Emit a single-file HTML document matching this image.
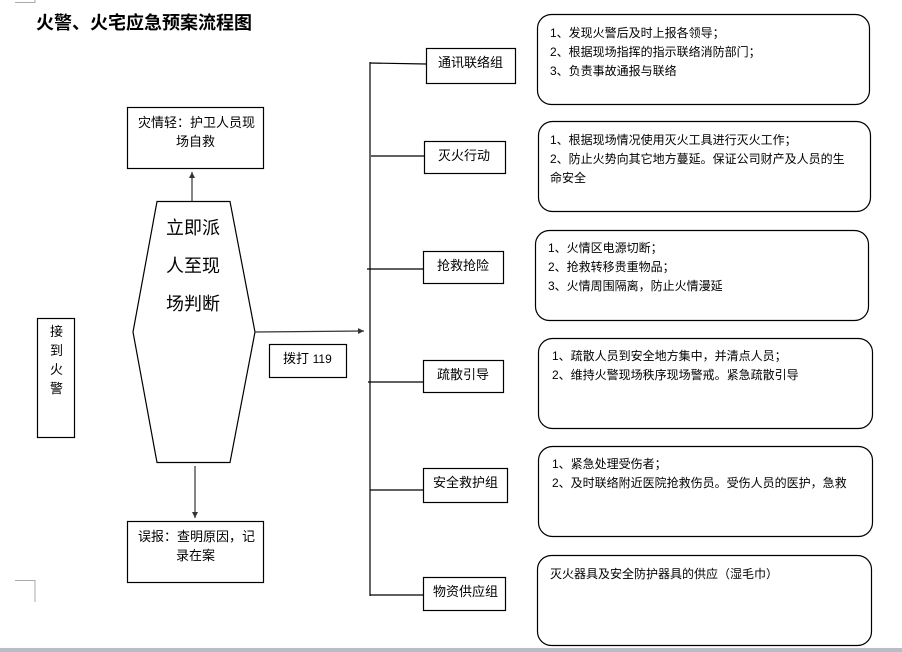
<!DOCTYPE html>
<html><head><meta charset="utf-8"><style>
html,body{margin:0;padding:0;background:#fff;}
svg{display:block;}
text{font-family:"Liberation Sans","Noto Sans CJK SC","WenQuanYi Zen Hei",sans-serif;fill:#000;}
</style></head><body>
<svg width="902" height="652" viewBox="0 0 902 652" xmlns="http://www.w3.org/2000/svg">
<defs><marker id="a" markerWidth="8" markerHeight="8" refX="6" refY="3" orient="auto" markerUnits="userSpaceOnUse"><path d="M0,0 L6,3 L0,6 z" fill="#333"/></marker></defs>
<rect width="902" height="652" fill="#fff"/>
<!-- corner marks -->
<path d="M15,2.5 H35 V0" fill="none" stroke="#aaa" stroke-width="1"/>
<path d="M15,580.5 H35 V602" fill="none" stroke="#aaa" stroke-width="1"/>
<!-- title -->
<text x="36" y="29" font-size="18" font-weight="bold">火警、火宅应急预案流程图</text>
<g fill="none" stroke="#000" stroke-width="1.2">
<!-- left box -->
<rect x="37.5" y="318.5" width="37" height="119"/>
<!-- hexagon -->
<polygon points="157,201.5 230,201.5 255,332 230,462.5 157,462.5 133,332"/>
<!-- upper/lower boxes -->
<rect x="127.5" y="107.5" width="136" height="61"/>
<rect x="127.5" y="521.5" width="136" height="61"/>
<rect x="269.5" y="344.5" width="77" height="33"/>
<!-- trunk -->
<line x1="370" y1="62" x2="370" y2="596"/>
<line x1="370" y1="63" x2="426" y2="64"/>
<line x1="371" y1="156" x2="424" y2="156"/>
<line x1="367" y1="269" x2="423" y2="269"/>
<line x1="368" y1="382" x2="423" y2="382"/>
<line x1="370" y1="490" x2="423" y2="490"/>
<line x1="370" y1="595" x2="423" y2="595"/>
<!-- group boxes -->
<rect x="426.5" y="48.5" width="89" height="35"/>
<rect x="424.5" y="141.5" width="81" height="32"/>
<rect x="423.5" y="251.5" width="80" height="32"/>
<rect x="423.5" y="360.5" width="80" height="32"/>
<rect x="423.5" y="468.5" width="84" height="34"/>
<rect x="423.5" y="577.5" width="82" height="33"/>
<!-- rounded boxes -->
<rect x="537.5" y="14.5" width="332" height="90" rx="14"/>
<rect x="538.5" y="121.5" width="332" height="90" rx="14"/>
<rect x="535.5" y="230.5" width="333" height="90" rx="14"/>
<rect x="538.5" y="338.5" width="334" height="90" rx="14"/>
<rect x="538.5" y="446.5" width="334" height="90" rx="14"/>
<rect x="537.5" y="555.5" width="334" height="90" rx="14"/>
</g>
<g stroke="#333" stroke-width="1.2">
<line x1="255" y1="332" x2="364" y2="331" marker-end="url(#a)"/>
<line x1="192" y1="201" x2="192" y2="172" marker-end="url(#a)"/>
<line x1="195" y1="466" x2="195" y2="518" marker-end="url(#a)"/>
</g>
<!-- texts -->
<g font-size="13">
<text x="50" y="336">接</text><text x="50" y="355">到</text><text x="50" y="374">火</text><text x="50" y="393">警</text>
<text x="138" y="127">灾情轻：护卫人员现</text>
<text x="176" y="146">场自救</text>
<text x="138" y="541">误报：查明原因，记</text>
<text x="176" y="560">录在案</text>
<text x="283" y="363">拨打 <tspan font-size="12">119</tspan></text>
<text x="438" y="67">通讯联络组</text>
<text x="438" y="160">灭火行动</text>
<text x="437" y="270">抢救抢险</text>
<text x="437" y="379">疏散引导</text>
<text x="433" y="487">安全救护组</text>
<text x="433" y="596">物资供应组</text>
</g>
<g font-size="18">
<text x="166" y="234">立即派</text>
<text x="166" y="272">人至现</text>
<text x="166" y="310">场判断</text>
</g>
<g font-size="12">
<text x="550" y="37">1、发现火警后及时上报各领导；</text>
<text x="550" y="56">2、根据现场指挥的指示联络消防部门；</text>
<text x="550" y="75">3、负责事故通报与联络</text>
<text x="550" y="144">1、根据现场情况使用灭火工具进行灭火工作；</text>
<text x="550" y="163">2、防止火势向其它地方蔓延。保证公司财产及人员的生</text>
<text x="550" y="182">命安全</text>
<text x="548" y="252">1、火情区电源切断；</text>
<text x="548" y="271">2、抢救转移贵重物品；</text>
<text x="548" y="290">3、火情周围隔离，防止火情漫延</text>
<text x="552" y="360">1、疏散人员到安全地方集中，并清点人员；</text>
<text x="552" y="379">2、维持火警现场秩序现场警戒。紧急疏散引导</text>
<text x="552" y="468">1、紧急处理受伤者；</text>
<text x="552" y="487">2、及时联络附近医院抢救伤员。受伤人员的医护，急救</text>
<text x="550" y="578">灭火器具及安全防护器具的供应（湿毛巾）</text>
</g>
<rect x="0" y="648" width="902" height="4" fill="#b8bcc4"/>
</svg>
</body></html>
